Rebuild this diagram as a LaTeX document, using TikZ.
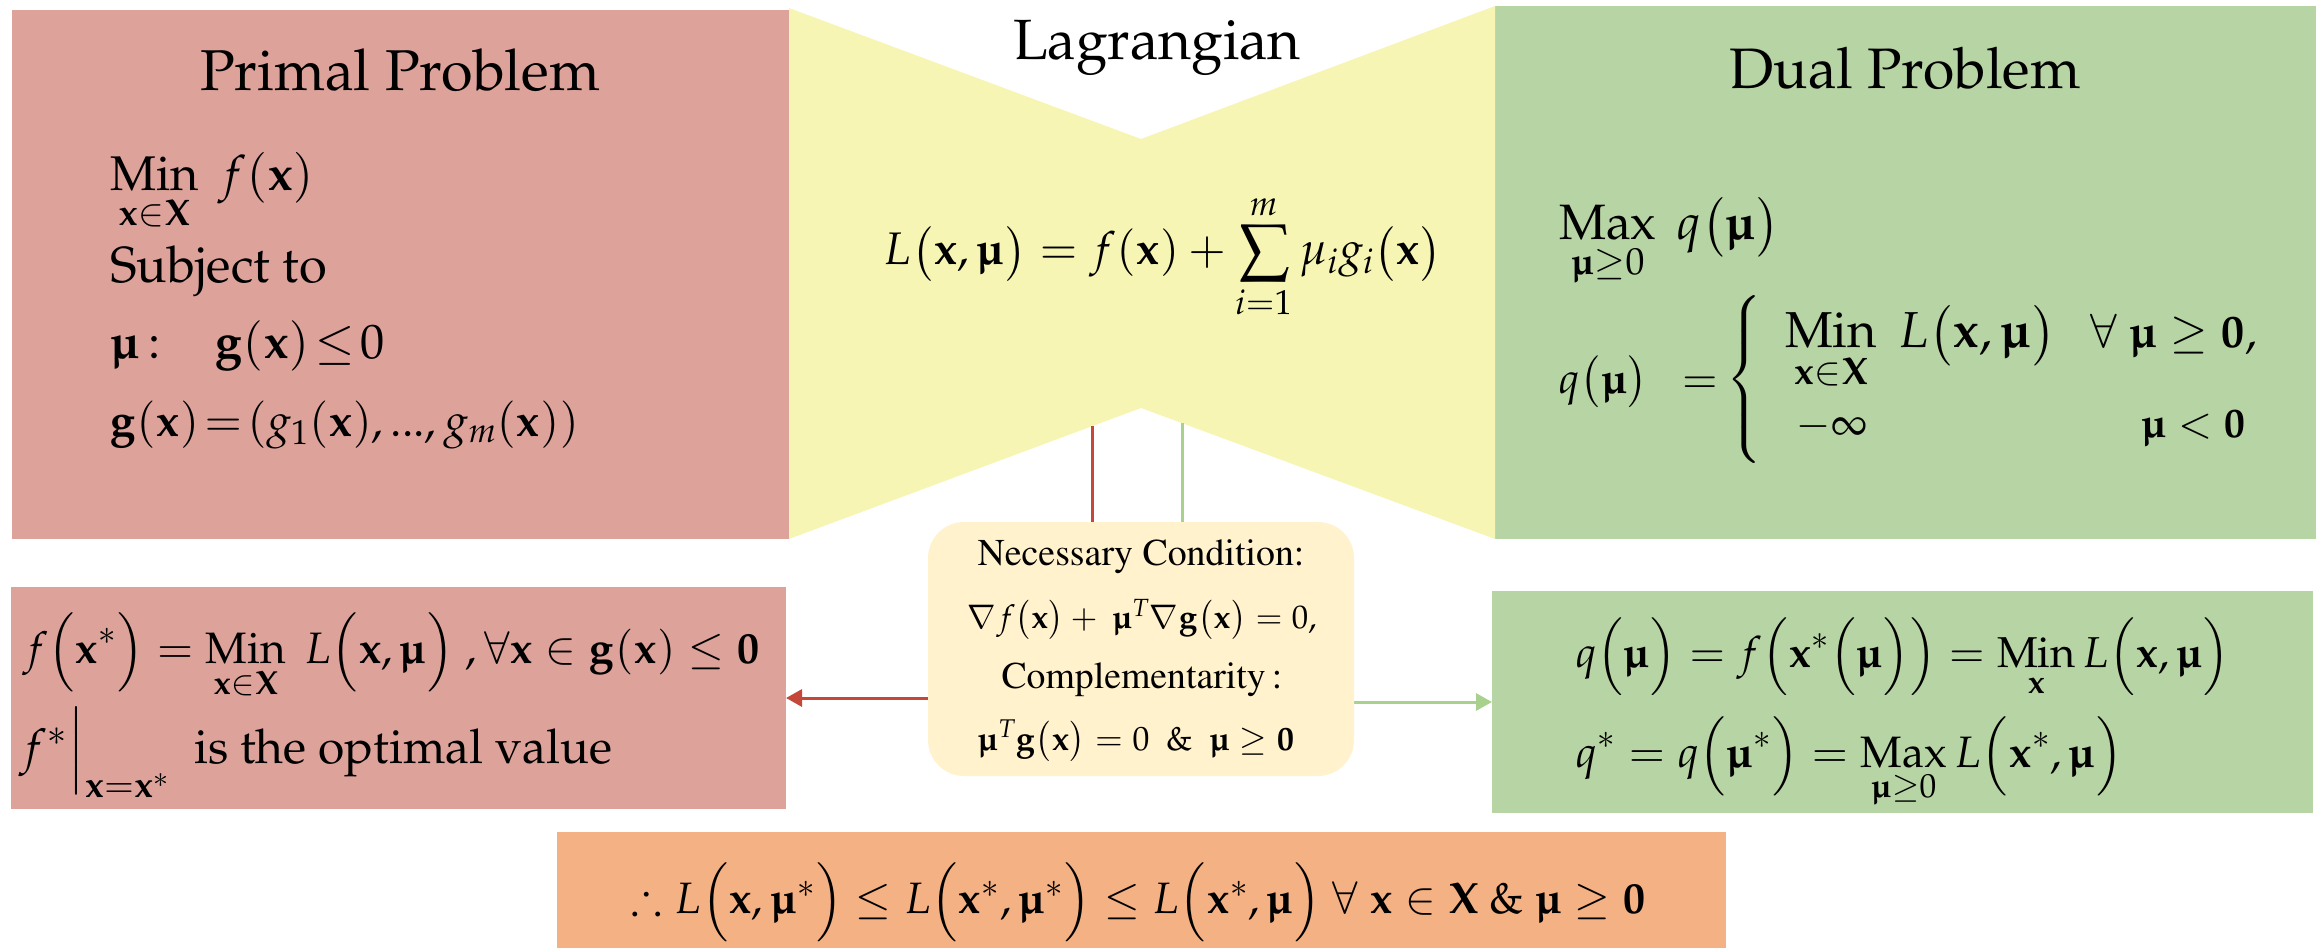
\documentclass[tikz,border=0pt]{standalone}
\usepackage[T1]{fontenc}
\usepackage{mathpazo}
\usepackage{amsmath,amssymb}
\usepackage{graphicx}
\usetikzlibrary{arrows.meta}
\definecolor{primc}{HTML}{DDA39A}
\definecolor{yelc}{HTML}{F6F5B4}
\definecolor{grnc}{HTML}{B7D4A4}
\definecolor{condc}{HTML}{FFF2CC}
\definecolor{orc}{HTML}{F4B183}
\definecolor{redl}{HTML}{C4473A}
\definecolor{grnl}{HTML}{A9D18E}
\newcommand{\fw}[2]{\resizebox{#1pt}{!}{#2}}
\newcommand{\bmu}{\mathord{\text{\upshape\bfseries\textmu}}}
\newcommand{\bx}{\mathbf{x}}
\newcommand{\tight}{\thickmuskip=2mu plus 1mu\medmuskip=2mu}
\begin{document}
\begin{tikzpicture}[x=1pt,y=-1pt,font=\fontsize{40}{48}\selectfont,
  lt/.style={inner sep=0pt,outer sep=0pt,anchor=base west},
  ct/.style={inner sep=0pt,outer sep=0pt,anchor=base},
  panel/.style={inner sep=0pt,outer sep=0pt,anchor=north west,draw=none},
  conn/.style={line width=3pt,-{Triangle[length=16pt,width=17pt]}}]
\useasboundingbox (0,0) rectangle (2320,949);
% panels
\node[panel,fill=primc,minimum width=777pt,minimum height=529pt] (primal) at (12,10) {};
\node[panel,fill=grnc,minimum width=821pt,minimum height=533pt] (dual) at (1495,6) {};
\fill[yelc] (789,8) -- (1141,139) -- (1495,6) -- (1495,539) -- (1141,408) -- (789,539) -- cycle;
\node[panel,fill=primc,minimum width=775pt,minimum height=222pt] (ll) at (11,587) {};
\node[panel,fill=grnc,minimum width=821pt,minimum height=222pt] (lr) at (1492,591) {};
\node[panel,fill=orc,minimum width=1169pt,minimum height=116pt] (ob) at (557,832) {};
% connectors
\coordinate (rs) at (1092,426.2);
\coordinate (gs) at (1182,423.2);
\draw[conn,redl] (rs) |- (ll.east);
\draw[conn,grnl] (gs) |- (lr.west);
\node[panel,fill=condc,rounded corners=36pt,minimum width=426pt,minimum height=254pt] (cond) at (928,522) {};
% titles
\node[ct] (ptitle) at (400,91) {\fw{400}{Primal Problem}};
\node[ct] (ltitle) at (1157,60) {\fw{288}{Lagrangian}};
\node[ct] (dtitle) at (1905,89) {\fw{351}{Dual Problem}};
% primal
\node[lt] (p1) at (110,191) {\fw{204}{$\displaystyle\mathop{\mathrm{Min}}\limits_{\bx\in\mathbf{X}}\ f(\bx)$}};
\node[lt] (p2) at (110,283) {\fw{217}{Subject to}};
\node[lt] (p3) at (110,359) {\fw{275}{$\tight\bmu\,{:}\quad\;\mathbf{g}(\bx)\le 0$}};
\node[lt] (p4) at (110,436) {\fw{469}{$\tight\mathbf{g}(\bx)=(g_1(\bx),...,g_m(\bx))$}};
% lagrangian
\node[lt] (lag) at (884,265) {\fw{558}{$\displaystyle L\bigl(\bx,\bmu\bigr)=f(\bx)+\sum_{i=1}^{m}\mu_i g_i\bigl(\bx\bigr)$}};
% dual
\node[lt] (d1) at (1559,240) {\fw{221}{$\displaystyle\mathop{\mathrm{Max}}\limits_{\bmu\ge0}\ q\bigl(\bmu\bigr)$}};
\node[lt] (d2) at (1559,393) {\fw{159}{$q\bigl(\bmu\bigr)\ \ =$}};
\node[ct] (brace) at (1745,389) {$\left\{\vrule height 75pt depth 75pt width 0pt\right.$};
\node[lt] (r1) at (1785,348) {\fw{271}{$\displaystyle\mathop{\mathrm{Min}}\limits_{\bx\in\mathbf{X}}\ L\bigl(\bx,\bmu\bigr)$}};
\node[lt] (r1b) at (2090,348) {\fw{167}{$\forall\ \bmu\ge\mathbf{0},$}};
\node[lt] (r2) at (1796,437) {\fw{72}{$-\infty$}};
\node[lt] (r2b) at (2141,437) {\fw{105}{$\bmu<\mathbf{0}$}};
% condition box
\node[ct] (c1) at (1141,565) {\fw{327}{\fontfamily{ptm}\selectfont Necessary Condition:}};
\node[ct] (c2) at (1142,628) {\fw{349}{$\nabla f\bigl(\bx\bigr)+\ \bmu^{T}\nabla\mathbf{g}\bigl(\bx\bigr)=0,$}};
\node[ct] (c3) at (1142,688) {\fw{281}{\fontfamily{ptm}\selectfont Complementarity\,:}};
\node[ct] (c4) at (1136,750) {\fw{317}{$\bmu^{T}\mathbf{g}\bigl(\bx\bigr)=0\ \ \&\ \ \bmu\ge\mathbf{0}$}};
% lower left
\node[lt] (l1) at (23,663) {\fw{737}{$\displaystyle f\Bigl(\bx^{*}\Bigr)=\mathop{\mathrm{Min}}\limits_{\bx\in\mathbf{X}}\ L\Bigl(\bx,\bmu\Bigr)\ ,\forall\bx\in\mathbf{g}(\bx)\le\mathbf{0}$}};
\node[lt] (l2) at (20,763) {\fw{592}{$f^{*}\Big|_{\bx=\bx^{*}}$\ \ is the optimal value}};
% lower right
\node[lt] (r3) at (1576,667) {\fw{654}{$\displaystyle q\Bigl(\bmu\Bigr)=f\Bigl(\bx^{*}\Bigl(\bmu\Bigr)\Bigr)=\mathop{\mathrm{Min}}\limits_{\bx}L\Bigl(\bx,\bmu\Bigr)$}};
\node[lt] (r4) at (1576,767) {\fw{547}{$\displaystyle q^{*}=q\Bigl(\bmu^{*}\Bigr)=\mathop{\mathrm{Max}}\limits_{\bmu\ge0}L\Bigl(\bx^{*},\bmu\Bigr)$}};
% bottom
\node[ct] (o1) at (1139,913) {\fw{1014}{$\therefore L\Bigl(\bx,\bmu^{*}\Bigr)\le L\Bigl(\bx^{*},\bmu^{*}\Bigr)\le L\Bigl(\bx^{*},\bmu\Bigr)\ \forall\ \bx\in\mathbf{X}\ \&\ \bmu\ge\mathbf{0}$}};
\end{tikzpicture}
\end{document}
